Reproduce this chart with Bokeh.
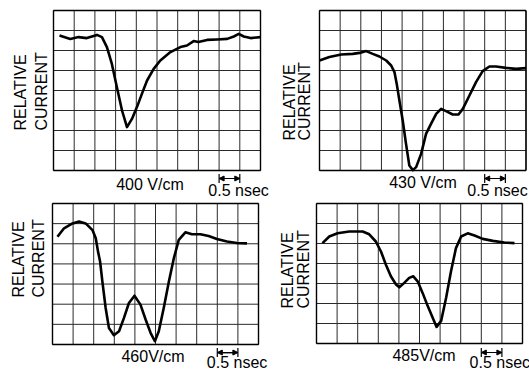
import math
from bokeh.plotting import figure
from bokeh.layouts import row, column
from bokeh.models import Range1d, Label, Arrow, TeeHead, NormalHead
from bokeh.embed import file_html
from bokeh.resources import INLINE

# ---- data (time in grid divisions, current in grid divisions) ----
t_400 = [0.29, 0.81, 1.21, 1.61, 2.10, 2.34, 2.58, 2.82, 3.06, 3.31, 3.55, 3.79, 4.03,
         4.27, 4.52, 4.84, 5.16, 5.65, 6.13, 6.45, 6.77, 7.00, 7.42, 7.90, 8.39, 8.71,
         8.95, 9.19, 9.52, 10.0]
i_400 = [6.75, 6.58, 6.67, 6.62, 6.78, 6.67, 6.17, 5.33, 4.17, 3.00, 2.17, 2.58, 3.17,
         3.83, 4.50, 5.08, 5.50, 5.92, 6.17, 6.25, 6.47, 6.42, 6.53, 6.55, 6.58, 6.70,
         6.83, 6.70, 6.62, 6.67]

t_430 = [0.0, 0.48, 1.05, 1.61, 1.94, 2.26, 2.58, 2.90, 3.23, 3.47, 3.63, 3.74, 3.87,
         4.03, 4.19, 4.35, 4.52, 4.68, 4.92, 5.16, 5.40, 5.65, 5.89, 6.13, 6.45, 6.73,
         6.94, 7.26, 7.58, 7.90, 8.23, 8.55, 9.03, 9.52, 10.0]
i_430 = [5.50, 5.67, 5.80, 5.83, 5.88, 5.97, 5.83, 5.70, 5.50, 5.25, 4.92, 4.33, 3.50,
         2.50, 1.33, 0.25, 0.02, 0.17, 0.83, 1.83, 2.33, 2.83, 3.08, 2.97, 2.80, 2.80,
         3.08, 3.75, 4.42, 4.97, 5.20, 5.20, 5.13, 5.08, 5.12]

t_460 = [0.24, 0.56, 0.97, 1.29, 1.61, 1.94, 2.10, 2.21, 2.31, 2.42, 2.58, 2.74, 2.98,
         3.23, 3.47, 3.71, 3.98, 4.27, 4.52, 4.76, 4.97, 5.16, 5.40, 5.65, 5.89, 6.13,
         6.45, 6.77, 7.18, 7.58, 7.98, 8.47, 8.95, 9.44]
i_460 = [5.35, 5.77, 6.01, 6.10, 6.01, 5.68, 5.27, 4.61, 4.12, 3.13, 1.81, 0.82, 0.46,
         0.66, 1.32, 2.06, 2.42, 1.98, 1.24, 0.58, 0.16, 0.66, 1.81, 3.13, 4.28, 5.19,
         5.57, 5.47, 5.47, 5.39, 5.24, 5.11, 5.04, 5.02]

t_485 = [0.29, 0.62, 1.02, 1.59, 2.24, 2.56, 2.88, 3.13, 3.37, 3.61, 3.86, 4.02, 4.26,
         4.50, 4.70, 4.91, 5.15, 5.40, 5.64, 5.83, 6.05, 6.29, 6.53, 6.77, 7.02, 7.34,
         7.67, 8.07, 8.56, 9.12, 9.61]
i_485 = [5.02, 5.35, 5.51, 5.60, 5.60, 5.46, 5.10, 4.60, 3.94, 3.36, 2.95, 2.81, 3.03,
         3.28, 3.36, 3.11, 2.53, 1.87, 1.29, 0.83, 1.13, 2.28, 3.61, 4.77, 5.35, 5.51,
         5.40, 5.23, 5.13, 5.05, 5.02]

field_labels = ["400 V/cm", "430 V/cm", "460V/cm", "485V/cm"]
scale_label = "0.5 nsec"
ylabel_lines = ["RELATIVE", "CURRENT"]
n_cols = 10
scale_div = (8, 9)

FONT = "Liberation Sans"


def make_panel(fig_w, fig_h, grid_left, grid_top, col_w, row_h, nrows, t, cur, flabel,
               flab_xy, scale_xy, bar_y, rel_x, cur_x, ylab_y):
    x0 = -grid_left / col_w
    x1 = x0 + fig_w / col_w
    y1 = nrows + grid_top / row_h
    y0 = y1 - fig_h / row_h
    p = figure(width=fig_w, height=fig_h, x_range=Range1d(x0, x1),
               y_range=Range1d(y0, y1), x_axis_location=None, y_axis_location=None,
               toolbar_location=None, output_backend="svg", min_border=0)
    p.outline_line_color = None
    p.grid.visible = False
    p.background_fill_color = "white"
    p.border_fill_color = "white"

    # grid
    xs = list(range(n_cols + 1))
    ys = list(range(nrows + 1))
    p.segment(x0=xs, y0=[0] * len(xs), x1=xs, y1=[nrows] * len(xs),
              line_color="#2a2a2a", line_width=1)
    p.segment(x0=[0] * len(ys), y0=ys, x1=[n_cols] * len(ys), y1=ys,
              line_color="#2a2a2a", line_width=1)
    p.segment(x0=[0, n_cols, 0, 0], y0=[0, 0, 0, nrows],
              x1=[0, n_cols, n_cols, n_cols], y1=[nrows, nrows, 0, nrows],
              line_color="black", line_width=1.4)

    p.line(t, cur, line_color="black", line_width=2.6, line_join="round")

    p.add_layout(Label(x=flab_xy[0], y=flab_xy[1], text=flabel, text_font=FONT,
                       text_font_size="16px", text_align="center",
                       text_baseline="middle", text_color="black"))
    p.add_layout(Label(x=scale_xy[0], y=scale_xy[1], text=scale_label, text_font=FONT,
                       text_font_size="16px", text_align="center",
                       text_baseline="middle", text_color="black"))
    p.add_layout(Label(x=rel_x, y=ylab_y, text=ylabel_lines[0], text_font=FONT,
                       text_font_size="16px", text_align="left", angle=math.pi / 2,
                       text_baseline="middle", text_color="black"))
    p.add_layout(Label(x=cur_x, y=ylab_y, text=ylabel_lines[1], text_font=FONT,
                       text_font_size="16px", text_align="left", angle=math.pi / 2,
                       text_baseline="middle", text_color="black"))
    p.add_layout(Arrow(start=TeeHead(size=9, line_width=1.2),
                       end=TeeHead(size=9, line_width=1.2),
                       x_start=scale_div[0], y_start=bar_y, x_end=scale_div[1], y_end=bar_y,
                       line_width=1.2, line_color="black"))
    p.add_layout(Arrow(start=NormalHead(size=5, line_width=1, fill_color="black"),
                       end=NormalHead(size=5, line_width=1, fill_color="black"),
                       x_start=scale_div[0], y_start=bar_y, x_end=scale_div[1], y_end=bar_y,
                       line_width=1.2, line_color="black"))
    return p


p1 = make_panel(274, 200, 53, 10, 20.7, 20.0, 8, t_400, i_400, field_labels[0],
                (4.66, -0.7), (8.94, -1.0), -0.4, -1.59, -0.58, 2.0)
p2 = make_panel(255, 200, 45, 10, 20.65, 20.0, 8, t_430, i_430, field_labels[1],
                (5.01, -0.6), (8.62, -1.0), -0.4, -1.45, -0.73, 1.5)
p3 = make_panel(274, 171, 52, 3, 20.6, 20.14, 7, t_460, i_460, field_labels[2],
                (4.88, -0.6), (8.96, -0.89), -0.4, -1.67, -0.70, 2.33)
p4 = make_panel(255, 171, 42, 3, 20.6, 20.0, 7, t_485, i_485, field_labels[3],
                (5.22, -0.6), (8.9, -0.95), -0.45, -1.43, -0.63, 1.75)

layout = column(row(p1, p2), row(p3, p4))

open("out.html", "w").write(file_html(layout, INLINE))
